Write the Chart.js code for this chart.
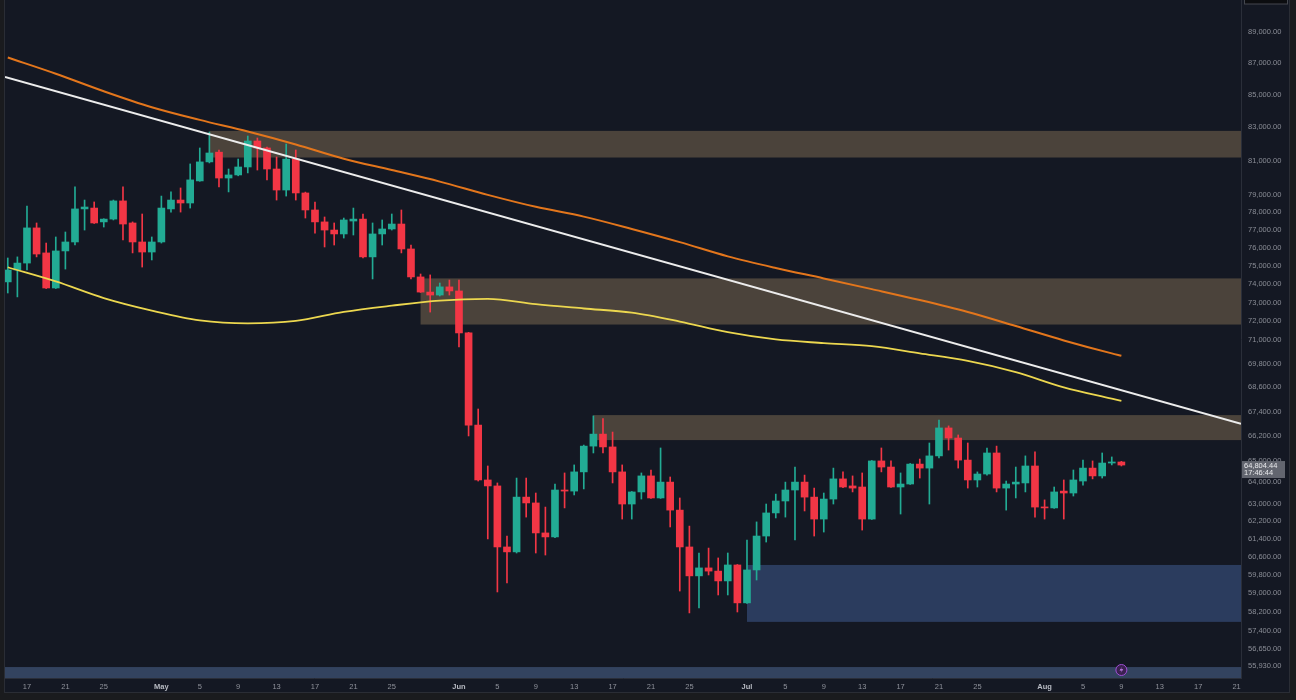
<!DOCTYPE html>
<html>
<head>
<meta charset="utf-8">
<title>Daily candles</title>
<script src="https://cdn.jsdelivr.net/npm/chart.js@4.4.1/dist/chart.umd.min.js"></script>
<style>
    html, body { margin: 0; padding: 0; width: 1296px; height: 700px; overflow: hidden; background: #1a1b1e; }
    #frame {
        position: absolute; left: 4px; top: 0; width: 1284px; height: 692px;
        background: #141823;
        border-left: 1px solid #2a2d35; border-right: 1px solid #2a2d35; border-bottom: 1px solid #2a2d35;
    }
    canvas { display: block; }
</style>
</head>
<body>
<div id="frame"><canvas id="priceChart" width="1284" height="692"></canvas></div>
<script>
// Daily candles, index 0 = 15 Apr
const opens = [
    74110, 74760, 75140, 77100, 75700, 73780, 75810, 76310, 78180, 78230, 77440, 77600, 78640, 77380, 76310, 75750,
    76310, 78180, 78690, 78520, 79800, 80920, 81500, 79970, 80150, 80620, 82170, 81750, 80500, 79270, 81090, 79100,
    78120, 77440, 76980, 76760, 77490, 77600, 75480, 76760, 77040, 77320, 75920, 74380, 73560, 73400, 73840,
    73620, 71390, 66730, 64100, 63820, 61030, 60810, 63300, 63030, 61660, 61480, 63630, 63580, 64480, 65710, 66290,
    65670, 64480, 62980, 63540, 64290, 63260, 64000, 62700, 61030, 59750, 60100, 59960, 59530, 60230,
    58580, 60010, 61520, 62570, 63120, 63630, 64000, 63300, 62290, 63210, 64150, 63820, 63770, 62290, 65000, 64710,
    63770, 63910, 64850, 64660, 65240, 66590, 66100, 65040, 64100, 64380, 65380, 63720, 63910, 63960, 64760,
    62840, 62800, 63580, 63490, 64050, 64660, 64290, 64900, 64950
];
const highs = [
    75420, 75480, 78350, 77380, 76250, 76590, 76870, 79450, 78690, 78580, 77620, 78690, 79450, 77440, 77890, 76590,
    78920, 79160, 79390, 80800, 81750, 82710, 81630, 80500, 81090, 82470, 82350, 81810, 81210, 81990, 81630, 79150,
    78580, 77720, 77380, 77660, 78230, 77890, 77380, 77550, 77890, 78120, 76140, 74540, 74490, 74050, 74210,
    74210, 71420, 67520, 64760, 63960, 61520, 64190, 64190, 63490, 62840, 63910, 64430, 64810, 65760, 67180, 67050,
    66390, 64810, 63560, 64430, 64570, 65620, 64240, 63260, 61970, 60760, 60980, 60540, 60760, 60250,
    61340, 62160, 62980, 63440, 64000, 64710, 64330, 63720, 63490, 64660, 64480, 64290, 64430, 65020, 65620, 65000,
    64430, 64880, 65090, 65860, 66980, 66690, 66250, 65860, 64480, 65620, 65710, 64050, 64710, 65240, 65430,
    63170, 63770, 64100, 64570, 65040, 65000, 65380, 65190, 64980
];
const lows = [
    73510, 73300, 74760, 75480, 73750, 73750, 74810, 76140, 76980, 77350, 77150, 77550, 76420, 75700, 74920, 75310,
    76250, 78000, 78000, 78230, 79780, 80860, 79450, 79160, 80100, 80270, 80440, 79860, 78690, 78920, 78690, 77660,
    76810, 76030, 76140, 76530, 76700, 75420, 74270, 76140, 76980, 75700, 74270, 73540, 72490, 73350, 73400,
    70660, 66200, 64050, 61390, 59050, 59440, 60760, 62380, 60760, 60670, 61450, 62800, 63400, 63680, 65380, 65380,
    63960, 62290, 62290, 63210, 63240, 63240, 61930, 59090, 58150, 58360, 59790, 58920, 58920, 58190,
    58560, 59570, 61250, 62340, 62380, 61340, 62660, 61520, 61700, 62980, 63740, 63540, 61790, 62270, 64480, 63750,
    62520, 63890, 64190, 62980, 65140, 65520, 64660, 63720, 63770, 64330, 63540, 62700, 63260, 63540, 62380,
    62290, 62780, 62290, 63350, 63860, 64150, 64190, 64810, 64760
];
const closes = [
    74760, 75140, 77100, 75640, 73780, 75810, 76310, 78180, 78290, 77380, 77600, 78640, 77320, 76310, 75750, 76310,
    78230, 78690, 78520, 79860, 80920, 81450, 79970, 80150, 80620, 82170, 81750, 80500, 79270, 81090, 79100, 78120,
    77440, 76980, 76760, 77550, 77600, 75480, 76760, 77040, 77320, 75920, 74380, 73560, 73400, 73840, 73620,
    71390, 66730, 64100, 63820, 61030, 60810, 63300, 63030, 61660, 61480, 63630, 63580, 64480, 65710, 66290, 65670,
    64480, 62980, 63540, 64290, 63260, 64000, 62700, 61030, 59750, 60100, 59960, 59530, 60230, 58580,
    60010, 61520, 62570, 63120, 63630, 64000, 63300, 62290, 63210, 64150, 63770, 63720, 62290, 65000, 64710, 63770,
    63910, 64850, 64660, 65240, 66590, 66100, 65040, 64100, 64380, 65380, 63720, 63910, 64000, 64760, 62840,
    62800, 63540, 63490, 64100, 64660, 64290, 64900, 64950, 64804.44
];

// Moving averages, read every 5 days (same day index as the candles)
const maDays = [0, 5, 10, 15, 20, 25, 30, 35, 40, 45, 50, 55, 60, 65, 70, 75, 80, 85, 90, 95, 100, 105, 110, 115, 116];
const maSlow = [87350, 86320, 85220, 84230, 83450, 82740, 81960, 81110, 80440, 79760, 78990, 78300, 77740,
    77040, 76300, 75510, 74870, 74300, 73720, 73130, 72490, 71750, 71000, 70330, 70210];
const maFast = [74910, 74140, 73240, 72570, 72050, 71890, 72020, 72500, 72830, 73100, 73190, 72910, 72680,
    72460, 71990, 71430, 71050, 70860, 70700, 70330, 69940, 69370, 68600, 68030, 67920];

// Hand drawn trend line (two anchors)
const trendDays = [-0.29, 128.46];
const trendPrices = [86110, 66790];

// Supply / demand boxes
const zoneFrom = [21, 43, 61, 77, -1];
const zoneTo = [129, 129, 129, 129, 129];
const zoneHigh = [82780, 74300, 67220, 60230, 55890];
const zoneLow = [81180, 71830, 66000, 57770, 55000];
const zoneColors = ["#4b433b", "#4b433b", "#4b433b", "#2b3c5e", "#33435f"];

// Axis labels
const priceTicks = [89000, 87000, 85000, 83000, 81000, 79000, 78000, 77000, 76000, 75000, 74000, 73000, 72000,
    71000, 69800, 68600, 67400, 66200, 65000, 64000, 63000, 62200, 61400, 60600, 59800, 59000, 58200, 57400,
    56650, 55930];
const dateTicks = ["04-17", "04-21", "04-25", "05-01", "05-05", "05-09", "05-13", "05-17", "05-21", "05-25",
    "06-01", "06-05", "06-09", "06-13", "06-17", "06-21", "06-25", "07-01", "07-05", "07-09", "07-13", "07-17",
    "07-21", "07-25", "08-01", "08-05", "08-09", "08-13", "08-17", "08-21"];

const lastPrice = 64804.44;
const countdown = "17:46:44";

const monthNames = ["Jan", "Feb", "Mar", "Apr", "May", "Jun", "Jul", "Aug", "Sep", "Oct", "Nov", "Dec"];
const baseTime = Date.UTC(2024, 3, 15);
const DAY = 86400000;
const fontFamily = "'Liberation Sans', Arial, sans-serif";

function dayIndex(md) {
    const [m, d] = md.split("-").map(Number);
    return Math.round((Date.UTC(2024, m - 1, d) - baseTime) / DAY);
}
function dateOf(v) {
    return new Date(baseTime + Math.round(v) * DAY);
}
function dateLabel(v) {
    const dt = dateOf(v);
    const d = dt.getUTCDate();
    return d === 1 ? monthNames[dt.getUTCMonth()] : String(d);
}
// month starts get the brighter, bold label
function isMonthTick(c) {
    return !!(c && c.tick) && dateOf(c.tick.value).getUTCDate() === 1;
}

const up = "#22ab94";
const down = "#f23645";
const candleColors = opens.map((o, i) => closes[i] >= o ? up : down);

// Boxes behind the candles
const zonePlugin = {
    id: "zones",
    beforeDatasetsDraw(chart) {
        const { ctx, chartArea, scales } = chart;
        ctx.save();
        ctx.beginPath();
        ctx.rect(chartArea.left, chartArea.top, chartArea.width, chartArea.height);
        ctx.clip();
        zoneFrom.forEach((d, i) => {
            const left = scales.x.getPixelForValue(d);
            const right = scales.x.getPixelForValue(zoneTo[i]);
            const top = scales.y.getPixelForValue(zoneHigh[i]);
            const bottom = scales.y.getPixelForValue(zoneLow[i]);
            ctx.fillStyle = zoneColors[i];
            ctx.fillRect(left, top, right - left, bottom - top);
        });
        ctx.restore();
    }
};

// Last price tag, time marker and clipped box at the top
const overlayPlugin = {
    id: "overlay",
    afterDraw(chart) {
        const { ctx, chartArea, scales } = chart;
        ctx.save();

        const py = scales.y.getPixelForValue(lastPrice);
        ctx.fillStyle = "#62656f";
        ctx.fillRect(chartArea.right + 1, py - 4, 43, 17);
        ctx.fillStyle = "#e8e9ec";
        ctx.font = "7.5px " + fontFamily;
        ctx.textAlign = "left";
        ctx.textBaseline = "middle";
        ctx.fillText(lastPrice.toLocaleString("en-US", { minimumFractionDigits: 2 }), chartArea.right + 3, py + 1);
        ctx.fillText(countdown, chartArea.right + 3, py + 8);

        ctx.fillStyle = "#0c0d10";
        ctx.strokeStyle = "#44474f";
        ctx.fillRect(chartArea.right + 3, -10, 44, 14);
        ctx.strokeRect(chartArea.right + 3.5, -10, 43, 14);

        const mx = scales.x.getPixelForValue(opens.length - 1);
        const my = chartArea.bottom - 8;
        ctx.beginPath();
        ctx.arc(mx, my, 5.5, 0, Math.PI * 2);
        ctx.fillStyle = "#3b2150";
        ctx.fill();
        ctx.strokeStyle = "#a04fd6";
        ctx.lineWidth = 1;
        ctx.stroke();
        ctx.beginPath();
        ctx.moveTo(mx + 1, my - 3.5);
        ctx.lineTo(mx - 1.8, my + 0.5);
        ctx.lineTo(mx + 0.5, my + 0.5);
        ctx.lineTo(mx - 1, my + 3.5);
        ctx.lineTo(mx + 1.8, my - 0.8);
        ctx.lineTo(mx - 0.4, my - 0.8);
        ctx.closePath();
        ctx.fillStyle = "#d38cff";
        ctx.fill();
        ctx.restore();
    }
};

document.addEventListener("DOMContentLoaded", function() {
    const ctx = document.getElementById("priceChart").getContext("2d");

    new Chart(ctx, {
        type: "bar",
        data: {
            datasets: [
                {
                    type: "line",
                    label: "Trend",
                    data: trendDays.map((d, i) => ({ x: d, y: trendPrices[i] })),
                    borderColor: "#ececec",
                    borderWidth: 2,
                    pointRadius: 0,
                    order: 0
                },
                {
                    type: "line",
                    label: "MA slow",
                    data: maDays.map((d, i) => ({ x: d, y: maSlow[i] })),
                    borderColor: "#e3761c",
                    borderWidth: 2,
                    pointRadius: 0,
                    cubicInterpolationMode: "monotone",
                    order: 0
                },
                {
                    type: "line",
                    label: "MA fast",
                    data: maDays.map((d, i) => ({ x: d, y: maFast[i] })),
                    borderColor: "#ecd74f",
                    borderWidth: 1.8,
                    pointRadius: 0,
                    cubicInterpolationMode: "monotone",
                    order: 0
                },
                {
                    label: "Bodies",
                    data: opens.map((o, i) => ({ x: i, y: [o, closes[i]] })),
                    backgroundColor: candleColors,
                    barThickness: 7,
                    minBarLength: 1,
                    grouped: false,
                    order: 1
                },
                {
                    label: "Wicks",
                    data: lows.map((l, i) => ({ x: i, y: [l, highs[i]] })),
                    backgroundColor: candleColors,
                    barThickness: 1,
                    grouped: false,
                    order: 2
                }
            ]
        },
        options: {
            responsive: false,
            animation: false,
            layout: { padding: 0 },
            plugins: {
                legend: { display: false },
                tooltip: { enabled: false }
            },
            scales: {
                x: {
                    type: "linear",
                    min: -0.29,
                    max: 128.46,
                    offset: false,
                    bounds: "data",
                    grid: { display: false, drawTicks: false },
                    border: { display: true, color: "#2a2e39" },
                    afterBuildTicks: scale => {
                        scale.ticks = dateTicks.map(t => ({ value: dayIndex(t) }));
                    },
                    afterFit: scale => {
                        scale.height = 14;
                        scale.paddingLeft = 0;
                        scale.paddingRight = 0;
                    },
                    ticks: {
                        autoSkip: false,
                        maxRotation: 0,
                        padding: 4,
                        color: c => isMonthTick(c) ? "#b8bbc3" : "#8f929b",
                        font: c => ({
                            family: fontFamily,
                            size: 7.5,
                            weight: isMonthTick(c) ? "bold" : "normal"
                        }),
                        callback: v => dateLabel(v)
                    }
                },
                y: {
                    type: "logarithmic",
                    position: "right",
                    min: 55443,
                    max: 91111,
                    bounds: "data",
                    grid: { display: false, drawTicks: false },
                    border: { display: true, color: "#2a2e39" },
                    afterBuildTicks: scale => {
                        scale.ticks = priceTicks.map(v => ({ value: v }));
                    },
                    afterFit: scale => {
                        scale.width = 48;
                        scale.paddingTop = 0;
                        scale.paddingBottom = 0;
                    },
                    ticks: {
                        autoSkip: false,
                        padding: 7,
                        color: "#8a8d96",
                        font: { family: fontFamily, size: 7.5 },
                        callback: v => Number(v).toLocaleString("en-US", { minimumFractionDigits: 2, maximumFractionDigits: 2 })
                    }
                }
            }
        },
        plugins: [zonePlugin, overlayPlugin]
    });
});
</script>
</body>
</html>
